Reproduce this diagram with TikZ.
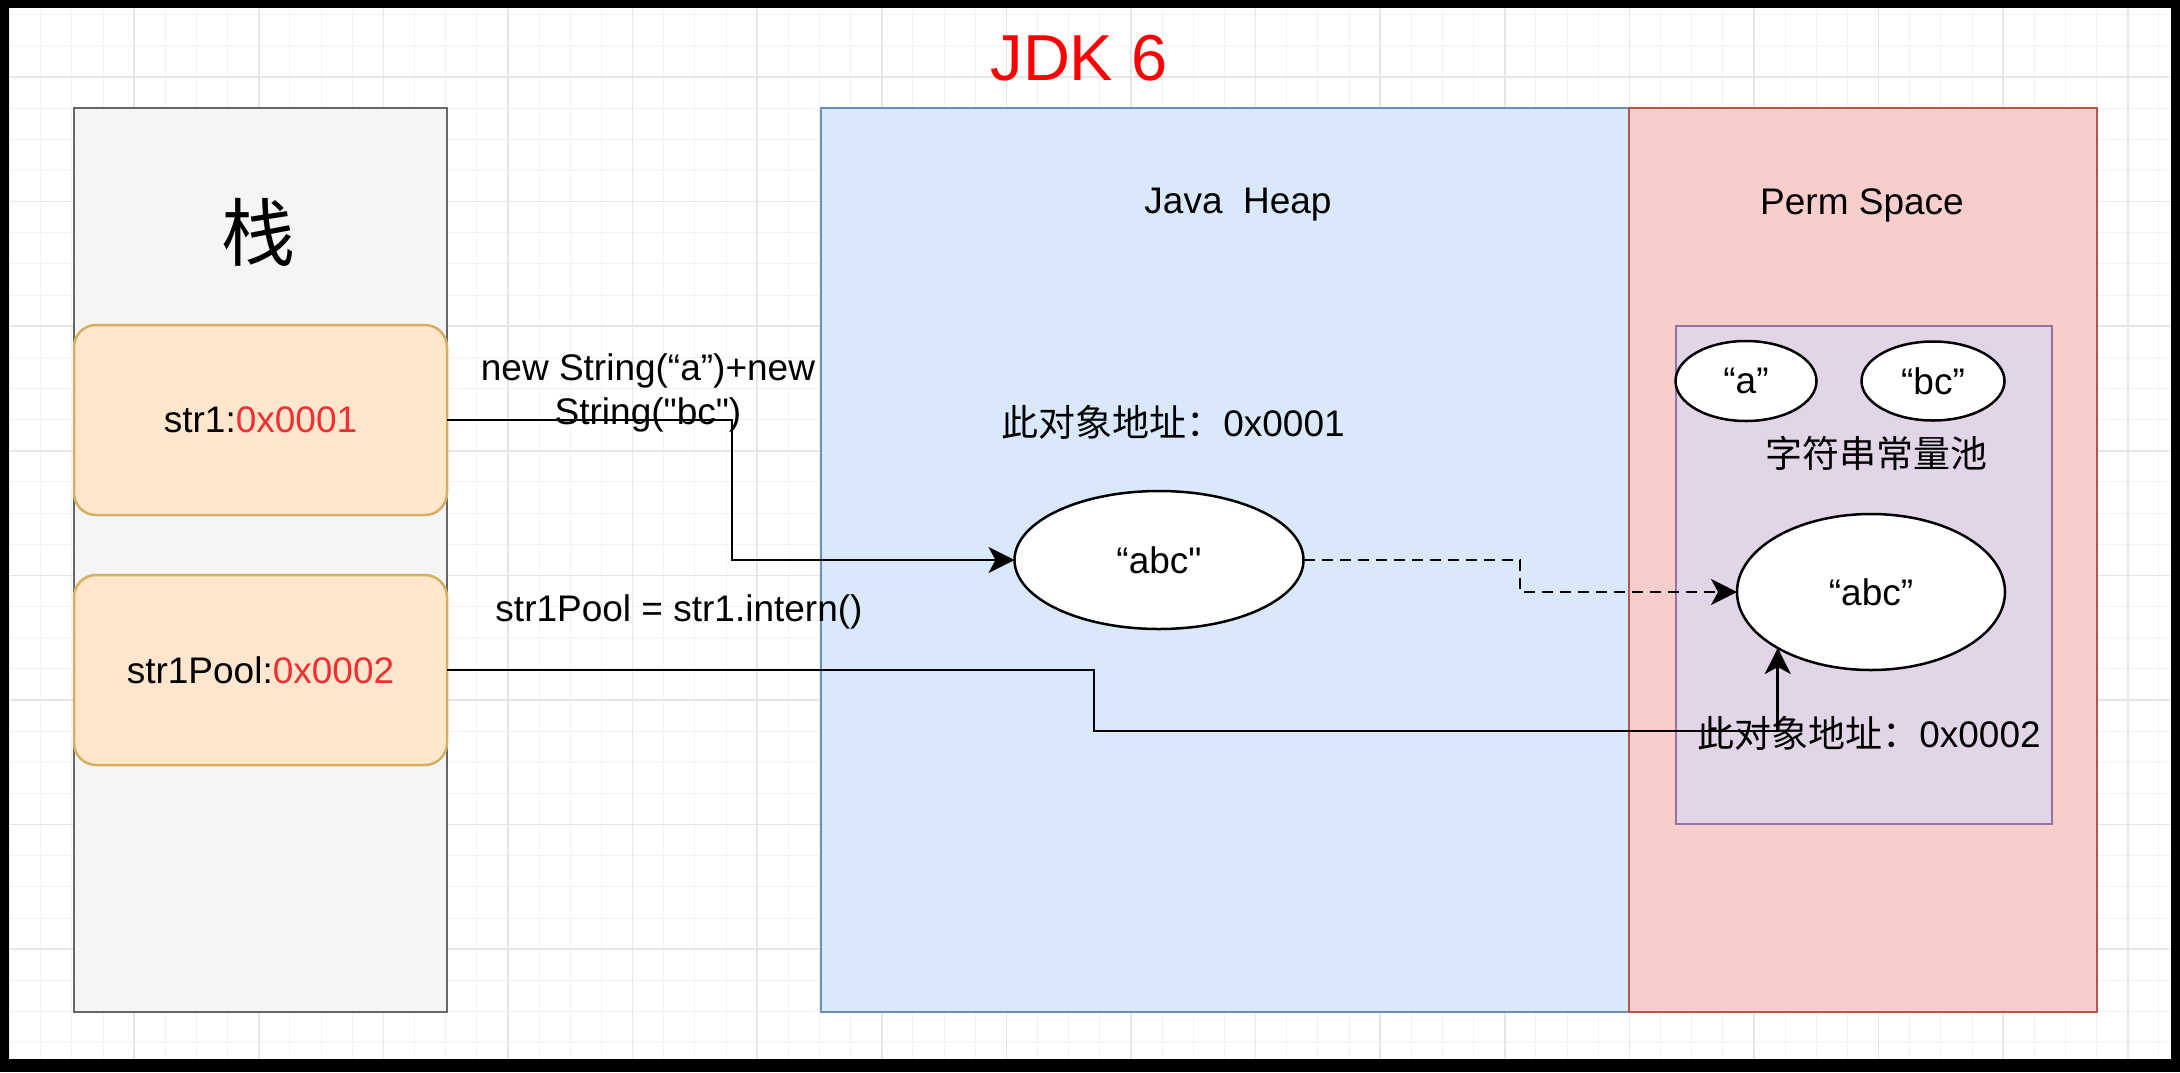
\documentclass[tikz,border=0pt]{standalone}
\usepackage{fontspec}
\setmainfont{Liberation Sans}
\newfontfamily\plainq{Liberation Sans}
\newfontfamily\cjk{Noto Sans CJK SC}
\usetikzlibrary{arrows.meta,shapes.geometric}

\definecolor{stackfill}{HTML}{F5F5F5}
\definecolor{stackline}{HTML}{666666}
\definecolor{slotfill}{HTML}{FFE6CC}
\definecolor{slotline}{HTML}{D6B060}
\definecolor{heapfill}{HTML}{DAE8FC}
\definecolor{heapline}{HTML}{6C8EBF}
\definecolor{permfill}{HTML}{F8CECC}
\definecolor{permline}{HTML}{B85450}
\definecolor{poolfill}{HTML}{E1D5E7}
\definecolor{poolline}{HTML}{9673A6}
\definecolor{addrred}{HTML}{F03030}
\definecolor{gridlo}{HTML}{F3F3F3}
\definecolor{gridhi}{HTML}{E6E6E6}

\begin{document}
\begin{tikzpicture}[x=1pt, y=-1pt,
    every node/.style={font=\fontsize{37}{44}\selectfont, inner sep=0pt, outer sep=0pt},
    >={Stealth[length=26pt, width=26pt, inset=7pt]},
    area/.style={draw, line width=2.5pt, anchor=north west},
    slot/.style={draw=slotline, fill=slotfill, line width=2.5pt, rounded corners=22pt, minimum width=373pt, minimum height=190pt},
    obj/.style={ellipse, draw, fill=white, line width=2.5pt},
    conn/.style={->, line width=2.8pt},
    big/.style={font=\cjk\fontsize{74}{80}\selectfont},
    zh/.style={font=\cjk\fontsize{37}{44}\selectfont},
  ]
  \useasboundingbox (0,0) rectangle (2180,1072);
  \fill[black] (0,0) rectangle (2180,1072);
  \fill[white] (10,8) rectangle (2171,1059);
  \foreach \k in {-16,...,53}
    \draw[gridlo, line width=1pt] ({508+31.15*\k},8) -- ({508+31.15*\k},1059);
  \foreach \k in {-2,...,31}
    \draw[gridlo, line width=1pt] (10,{77+31.15*\k}) -- (2171,{77+31.15*\k});
  \foreach \k in {-16,-12,...,52}
    \draw[gridhi, line width=1.6pt] ({508+31.15*\k},8) -- ({508+31.15*\k},1059);
  \foreach \k in {0,4,...,28}
    \draw[gridhi, line width=1.6pt] (10,{77+31.15*\k}) -- (2171,{77+31.15*\k});

  \node[text=red, font=\fontsize{65}{78}\selectfont] (jdk) at (1079,58) {JDK 6};

  \node[area, draw=stackline, fill=stackfill, minimum width=373pt, minimum height=904pt] (stack) at (74,108) {};
  \node[area, draw=heapline, fill=heapfill, minimum width=808pt, minimum height=904pt] (heap) at (821,108) {};
  \node[area, draw=permline, fill=permfill, minimum width=468pt, minimum height=904pt] (perm) at (1629,108) {};
  \node[area, draw=poolline, fill=poolfill, minimum width=376pt, minimum height=498pt] (pool) at (1676,326) {};

  \node[big] (stacklbl) at (258,232) {栈};
  \node (heaplbl) at (1238,205) {Java\ \ Heap};
  \node (permlbl) at (1862,205) {Perm Space};
  \node[zh] (poollbl) at (1876,453) {字符串常量池};

  \node[slot] (str1) at (260.5,420) {str1:\textcolor{addrred}{0x0001}};
  \node[slot] (str1pool) at (260.5,670) {str1Pool:\textcolor{addrred}{0x0002}};

  \node[obj, minimum width=289pt, minimum height=138pt] (heapabc) at (1159,560) {“abc{\plainq"}};
  \node[obj, minimum width=268pt, minimum height=156pt] (permabc) at (1871,592) {“abc”};
  \node[obj, minimum width=141pt, minimum height=80pt] (poola) at (1746,381) {“a”};
  \node[obj, minimum width=143pt, minimum height=79pt] (poolbc) at (1933,381) {“bc”};

  \node[align=center] (newlbl) at (648,393) {new String(“a”)+new\\String({\plainq"bc"})};
  \node (internlbl) at (679,612) {str1Pool = str1.intern()};
  \node (addr1) at (1173,422) {{\cjk 此对象地址：}0x0001};
  \node (addr2) at (1869,733) {{\cjk 此对象地址：}0x0002};

  \coordinate (b1) at (732,560);
  \coordinate (b2) at (1520,592);
  \coordinate (b3) at (1094,731);
  \coordinate (b4) at (permabc.211 |- b3);
  \draw[conn] (str1.east) -| (b1) -- (heapabc.west);
  \draw[conn, dash pattern=on 11pt off 7pt] (heapabc.east) -| (b2) -- (permabc.west);
  \draw[conn] (str1pool.east) -| (b3) -- (b4) -- (permabc.211);
\end{tikzpicture}
\end{document}
